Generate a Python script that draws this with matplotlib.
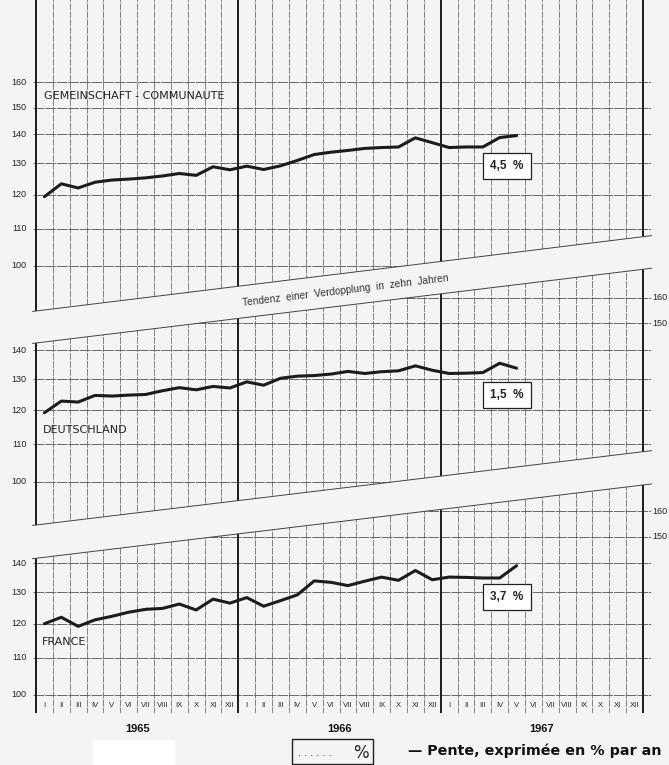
import matplotlib.pyplot as plt
from matplotlib.patches import Polygon, Rectangle

plt.rcParams['font.family'] = ['Liberation Sans', 'DejaVu Sans']

mois = ['I', 'II', 'III', 'IV', 'V', 'VI', 'VII', 'VIII', 'IX', 'X', 'XI', 'XII']
annees = ['1965', '1966', '1967']

# indices mensuels, janvier 1965 - mai 1967 (echelle logarithmique)
communaute = [119.4, 123.4, 122.1, 123.9, 124.6, 124.9, 125.3, 125.9, 126.7, 126.1,
              128.9, 127.9, 129.1, 128.0, 129.2, 131.0, 133.0, 133.8, 134.4, 135.1,
              135.4, 135.6, 138.8, 137.1, 135.4, 135.6, 135.6, 138.9, 139.6]
deutschland = [119.3, 122.9, 122.6, 124.7, 124.5, 124.8, 125.0, 126.2, 127.2, 126.5,
               127.6, 127.1, 129.1, 128.0, 130.3, 131.0, 131.2, 131.7, 132.6, 131.9,
               132.5, 132.8, 134.5, 133.0, 131.9, 132.0, 132.2, 135.4, 133.7]
france = [120.0, 122.0, 119.2, 121.2, 122.3, 123.6, 124.5, 124.8, 126.2, 124.3,
          127.8, 126.5, 128.3, 125.5, 127.3, 129.2, 133.9, 133.4, 132.3, 133.8,
          135.2, 134.1, 137.5, 134.3, 135.2, 135.1, 134.9, 134.9, 139.2]

series = [communaute, deutschland, france]
noms = ['GEMEINSCHAFT - COMMUNAUTE', 'DEUTSCHLAND', 'FRANCE']
pentes = ['4,5  %', '1,5  %', '3,7  %']
niveaux = [100, 110, 120, 130, 140, 150, 160]
gauche = [[100, 110, 120, 130, 140, 150, 160],
          [100, 110, 120, 130, 140],
          [100, 110, 120, 130, 140]]
droite = [[], [150, 160], [150, 160]]

# mise en page (pixels)
W, H = 669, 765
X0, DX = 36, 607 / 36          # mois 0 et largeur d'un mois
DEC = 900                      # pixels par decade
PAPER = '#f4f4f4'
INK = '#1c1c1c'
panels = [
    dict(y100=266.0, top=(-5, -5), bot=(311.0, 236.7)),
    dict(y100=481.7, top=(343.0, 269.3), bot=(525.0, 451.7)),
    dict(y100=695.0, top=(558.3, 485.0), bot=(713.0, 713.0)),
]
name_pos = [(44, 96), (43, 430), (42, 642)]
box_pos = [(507, 166), (507, 395), (507, 597)]
xa, xb = -0.2, 36.5

fig = plt.figure(figsize=(W / 100, H / 100), dpi=100, facecolor=PAPER)


def to_data(ax, px, py):
    return ax.transData.inverted().transform((px, H - py))


def slant(edge, m):
    return edge[0] + (edge[1] - edge[0]) * m / 36


for k, p in enumerate(panels):
    ax = fig.add_axes([0, 0, 1, 1])
    ax.set_xlim(-X0 / DX, (W - X0) / DX)
    ax.set_yscale('log')
    ax.set_ylim(100 * 10 ** ((p['y100'] - H) / DEC), 100 * 10 ** (p['y100'] / DEC))
    ax.axis('off')

    def val(m, py):
        return to_data(ax, X0 + m * DX, py)[1]

    top = [(xa, val(xa, slant(p['top'], xa))), (xb, val(xb, slant(p['top'], xb)))]
    bot = [(xb, val(xb, slant(p['bot'], xb))), (xa, val(xa, slant(p['bot'], xa)))]
    clip = Polygon(top + bot, closed=True, transform=ax.transData)
    lo, hi = min(v for _, v in bot) * 0.9, max(v for _, v in top) * 1.1

    for v in niveaux:
        ln, = ax.plot([xa, xb], [v, v], color='#444', lw=0.55, dashes=(14, 1.2))
        ln.set_clip_path(clip)
    for m in range(37):
        if m in (0, 12, 24, 36):
            ln, = ax.plot([m, m], [lo, hi], color=INK, lw=1.4)
        else:
            ln, = ax.plot([m, m], [lo, hi], color='#555', lw=0.5, dashes=(10, 1.5))
        ln.set_clip_path(clip)

    # lignes de tendance (doublement en dix ans)
    if k > 0:
        ax.plot([xa, xb], [top[0][1], top[1][1]], color='#444', lw=0.7)
    if k < 2:
        ax.plot([xa, xb], [bot[1][1], bot[0][1]], color='#444', lw=0.7)

    xs = [i + 0.5 for i in range(len(series[k]))]
    ax.plot(xs, series[k], color=INK, lw=2.2, solid_joinstyle='round',
            solid_capstyle='round')

    for v in gauche[k]:
        ax.text(-0.55, v, str(v), ha='right', va='center', fontsize=6.5, color='#222')
    for v in droite[k]:
        ax.text(36.55, v, str(v), ha='left', va='center', fontsize=6.5, color='#222')

    nx, ny = to_data(ax, name_pos[k][0], name_pos[k][1])
    ax.text(nx, ny, noms[k], ha='left', va='center', fontsize=8, color='#222',
            family='DejaVu Sans')

    bx, by = to_data(ax, box_pos[k][0], box_pos[k][1])
    ax.text(bx, by, pentes[k], ha='center', va='center', fontsize=8.5,
            fontweight='bold', color='#222',
            bbox=dict(boxstyle='square,pad=0.6', fc='white', ec='#222', lw=0.9))

    if k == 0:
        tx, ty = to_data(ax, 345, 291)
        ax.text(tx, ty, 'Tendenz  einer  Verdopplung  in  zehn  Jahren', ha='center',
                va='center', rotation=6.9, rotation_mode='anchor', fontsize=7.3,
                color='#333')
    if k == 2:
        for i in range(36):
            ax.text(i + 0.5, to_data(ax, 0, 706)[1], mois[i % 12], ha='center',
                    va='center', fontsize=5.5, color='#222')
        for j, a in enumerate(annees):
            ax.text(6 + 12 * j, to_data(ax, 0, 729)[1], a, ha='center', va='center',
                    fontsize=8, fontweight='bold', color='#111')

# legende en bas
fig.add_artist(Rectangle((93 / W, 0), 82 / W, 25 / H, transform=fig.transFigure,
                         fc='white', ec='none'))
fig.add_artist(Rectangle((292 / W, 1 / H), 81 / W, 25 / H, transform=fig.transFigure,
                         fill=False, ec='#222', lw=1.0))
fig.text(298 / W, 12 / H, '. . . . . .', fontsize=8, va='center', color='#222')
fig.text(353 / W, 12 / H, '%', fontsize=12, va='center', color='#222',
         family='DejaVu Sans')
fig.text(408 / W, 14 / H, '— Pente, exprimée en % par an', fontsize=10.3,
         fontweight='bold', va='center', color='#111', family='DejaVu Sans')

fig.savefig('out.png', dpi=100, facecolor=PAPER)
